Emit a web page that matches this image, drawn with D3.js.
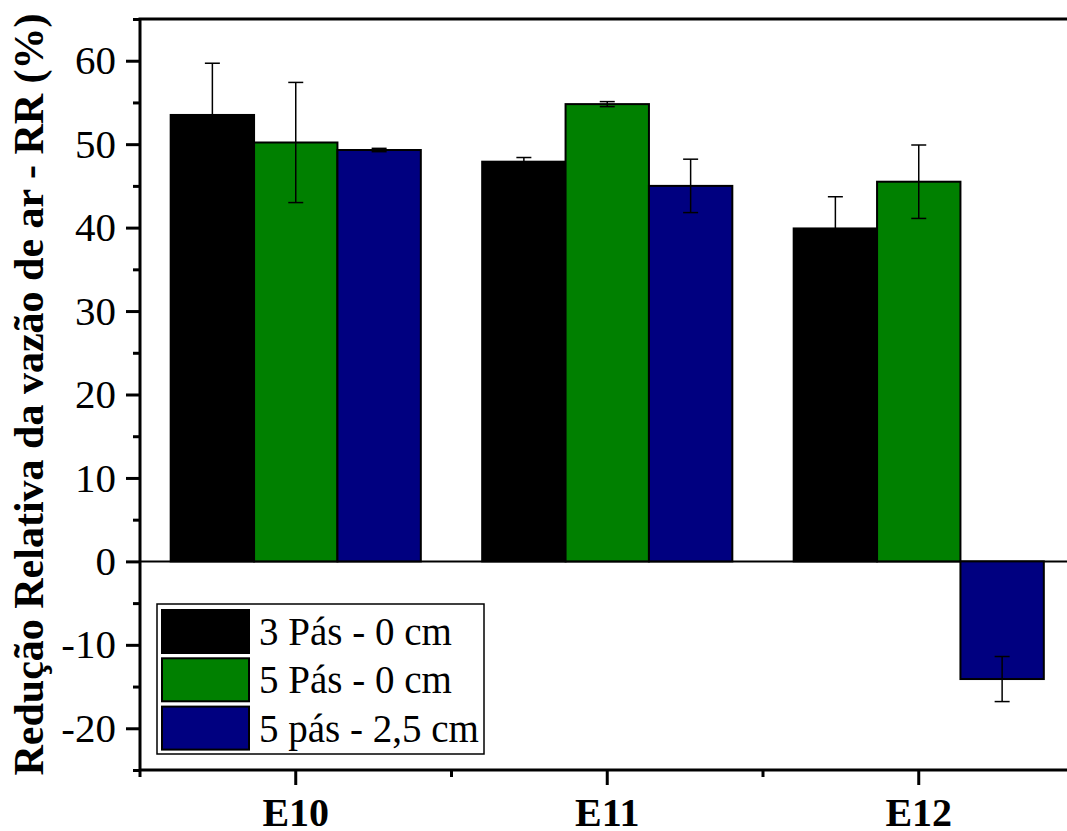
<!DOCTYPE html>
<html lang="pt">
<head>
<meta charset="UTF-8">
<title>RR</title>
<style>
  * { margin: 0; padding: 0; }
  body { background: #fff; }
  svg { display: block; }
  text { font-family: "Liberation Serif", "Times New Roman", serif; fill: #000; }
</style>
</head>
<body>
<script src="https://cdn.jsdelivr.net/npm/d3@7"></script>
<script>
// dados
var categories = ["E10", "E11", "E12"];
var seriesNames = ["3 Pás - 0 cm", "5 Pás - 0 cm", "5 pás - 2,5 cm"];
var pas3 = [53.5, 47.9, 39.9];
var pas5 = [50.2, 54.8, 45.5];
var pas5_25 = [49.3, 45.0, -14.1];
var errPas3 = [6.2, 0.5, 3.8];
var errPas5 = [7.2, 0.3, 4.4];
var errPas5_25 = [0.2, 3.2, 2.7];
var yTicks = [-20, -10, 0, 10, 20, 30, 40, 50, 60];
var yMinor = [-25, -15, -5, 5, 15, 25, 35, 45, 55, 65];
var colors = ["#000000", "#008000", "#000080"];

var W = 1067, H = 831;
var pLeft = 140, pTop = 19, pBottom = 770;
var step = 311.5;
var pRight = pLeft + step * categories.length; // passa da borda da figura

var values = [pas3, pas5, pas5_25];
var errors = [errPas3, errPas5, errPas5_25];

var svg = d3.select("body").append("svg").attr("width", W).attr("height", H)
  .attr("font-family", "Liberation Serif");

var x = d3.scaleBand().domain(categories).range([pLeft, pRight])
  .paddingInner(0.197).paddingOuter(0.0985);
var xs = d3.scaleBand().domain(d3.range(seriesNames.length)).range([0, x.bandwidth()]);
var y = d3.scaleLinear().domain([-25, 65]).range([pBottom, pTop]);

// dados achatados
var bars = [];
categories.forEach(function (c, i) {
  values.forEach(function (s, j) {
    bars.push({ cat: c, s: j, v: s[i], e: errors[j][i] });
  });
});

// linha do zero
svg.append("line")
  .attr("x1", pLeft).attr("x2", W)
  .attr("y1", y(0)).attr("y2", y(0))
  .attr("stroke", "#000").attr("stroke-width", 2);

// barras
svg.selectAll("rect.bar").data(bars).enter().append("rect")
  .attr("class", "bar")
  .attr("x", function (d) { return x(d.cat) + xs(d.s); })
  .attr("y", function (d) { return y(Math.max(0, d.v)); })
  .attr("width", xs.bandwidth())
  .attr("height", function (d) { return Math.abs(y(d.v) - y(0)); })
  .attr("fill", function (d) { return colors[d.s]; })
  .attr("stroke", "#000").attr("stroke-width", 2);

// barras de erro
var eb = svg.selectAll("g.err").data(bars).enter().append("g")
  .attr("class", "err")
  .attr("transform", function (d) { return "translate(" + (x(d.cat) + xs(d.s) + xs.bandwidth() / 2) + ",0)"; });
eb.append("line")
  .attr("y1", function (d) { return y(d.v + d.e); })
  .attr("y2", function (d) { return y(d.v - d.e); })
  .attr("stroke", "#000").attr("stroke-width", 1.5);
eb.selectAll("line.cap").data(function (d) { return [d.v + d.e, d.v - d.e]; }).enter().append("line")
  .attr("class", "cap")
  .attr("x1", -7.5).attr("x2", 7.5)
  .attr("y1", function (v) { return y(v); })
  .attr("y2", function (v) { return y(v); })
  .attr("stroke", "#000").attr("stroke-width", 1.5);

// eixo y
var yAxis = svg.append("g").attr("transform", "translate(" + pLeft + ",0)")
  .call(d3.axisLeft(y).tickValues(yTicks).tickSize(14).tickPadding(10)
    .tickFormat(function (d) { return String(d); }));
yAxis.attr("font-family", null);
yAxis.select(".domain").remove();
yAxis.selectAll(".tick line").attr("stroke-width", 3);
yAxis.selectAll(".tick text").attr("font-size", 41);

var yAxisMinor = svg.append("g").attr("transform", "translate(" + pLeft + ",0)")
  .call(d3.axisLeft(y).tickValues(yMinor).tickSize(7).tickFormat(""));
yAxisMinor.select(".domain").remove();
yAxisMinor.selectAll(".tick line").attr("stroke-width", 3);

// eixo x
var xAxis = svg.append("g").attr("transform", "translate(0," + pBottom + ")")
  .call(d3.axisBottom(x).tickSize(15).tickPadding(13));
xAxis.attr("font-family", null);
xAxis.select(".domain").remove();
xAxis.selectAll(".tick line").attr("stroke-width", 3);
xAxis.selectAll(".tick text").attr("font-size", 40).attr("font-weight", "bold");

var bounds = categories.map(function (c) { return x(c) + x.bandwidth() / 2 - step / 2; });
bounds.push(pRight);
svg.append("g").selectAll("line").data(bounds).enter().append("line")
  .attr("x1", function (d) { return d; }).attr("x2", function (d) { return d; })
  .attr("y1", pBottom).attr("y2", pBottom + 7)
  .attr("stroke", "#000").attr("stroke-width", 3);

// moldura
svg.append("path")
  .attr("d", "M" + W + "," + pTop + "H" + pLeft + "V" + pBottom + "H" + W)
  .attr("fill", "none").attr("stroke", "#000").attr("stroke-width", 3);

// título do eixo y
svg.append("text")
  .attr("transform", "translate(43," + ((pTop + pBottom) / 2) + ") rotate(-90)")
  .attr("text-anchor", "middle")
  .attr("font-size", 42).attr("font-weight", "bold")
  .text("Redução Relativa da vazão de ar - RR (%)");

// legenda
var lg = svg.append("g").attr("transform", "translate(157,604)");
lg.append("rect").attr("width", 327).attr("height", 150)
  .attr("fill", "#fff").attr("stroke", "#000").attr("stroke-width", 1.5);
var items = lg.selectAll("g.item").data(seriesNames).enter().append("g")
  .attr("class", "item")
  .attr("transform", function (d, i) { return "translate(5," + (6 + i * 48.3) + ")"; });
items.append("rect").attr("width", 87).attr("height", 43)
  .attr("fill", function (d, i) { return colors[i]; })
  .attr("stroke", "#000").attr("stroke-width", 2);
items.append("text").attr("x", 97).attr("y", 35)
  .attr("font-size", 39)
  .text(function (d) { return d; });
</script>
</body>
</html>
